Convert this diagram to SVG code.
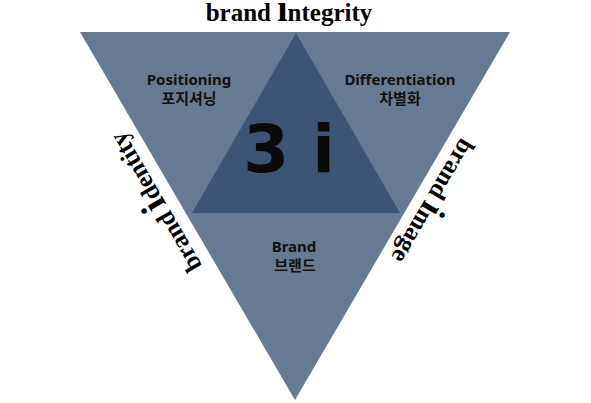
<svg xmlns="http://www.w3.org/2000/svg" width="591" height="403" viewBox="0 0 591 403">
<style>
.side{font-family:"Liberation Serif","Times New Roman",serif;font-weight:bold;font-size:25px;fill:#000}
.big{font-size:37px}
.lab{font-family:"Noto Sans","Noto Sans CJK KR",sans-serif;font-weight:bold;font-size:15px;fill:#111;text-anchor:middle}
.kor{font-family:"Noto Sans CJK KR",sans-serif;font-weight:bold;font-size:15px;fill:#111;text-anchor:middle}
</style>
<rect width="591" height="403" fill="#fff"/>
<g id="outer-triangle"><polygon points="80,32 510,32 295,400" fill="#677a94"/></g>
<g id="inner-triangle"><polygon points="296,33 192,213 400,213" fill="#3c5575"/></g>
<g id="center-3i"><text x="289" y="172" font-family="'DejaVu Sans',sans-serif" font-weight="bold" font-size="66" fill="#0a0a0a" text-anchor="middle">3 i</text></g>
<g id="positioning"><text class="lab" x="189" y="85">Positioning</text><text class="kor" x="189" y="104">포지셔닝</text></g>
<g id="differentiation"><text class="lab" x="400" y="85">Differentiation</text><text class="kor" x="400" y="104">차별화</text></g>
<g id="brand"><text class="lab" x="294" y="252" font-size="14">Brand</text><text class="kor" x="295" y="271" font-size="14">브랜드</text></g>
<g id="brand-integrity"><text class="side" x="289" y="21" text-anchor="middle">brand <tspan class="big">i</tspan>ntegrity</text></g>
<g id="brand-identity"><text class="side" text-anchor="middle" transform="translate(163,198) rotate(-120.3)">brand <tspan class="big">i</tspan>dentity</text></g>
<g id="brand-image"><text class="side" text-anchor="middle" transform="translate(426,197) rotate(120.3)">brand <tspan class="big">i</tspan>mage</text></g>
</svg>
